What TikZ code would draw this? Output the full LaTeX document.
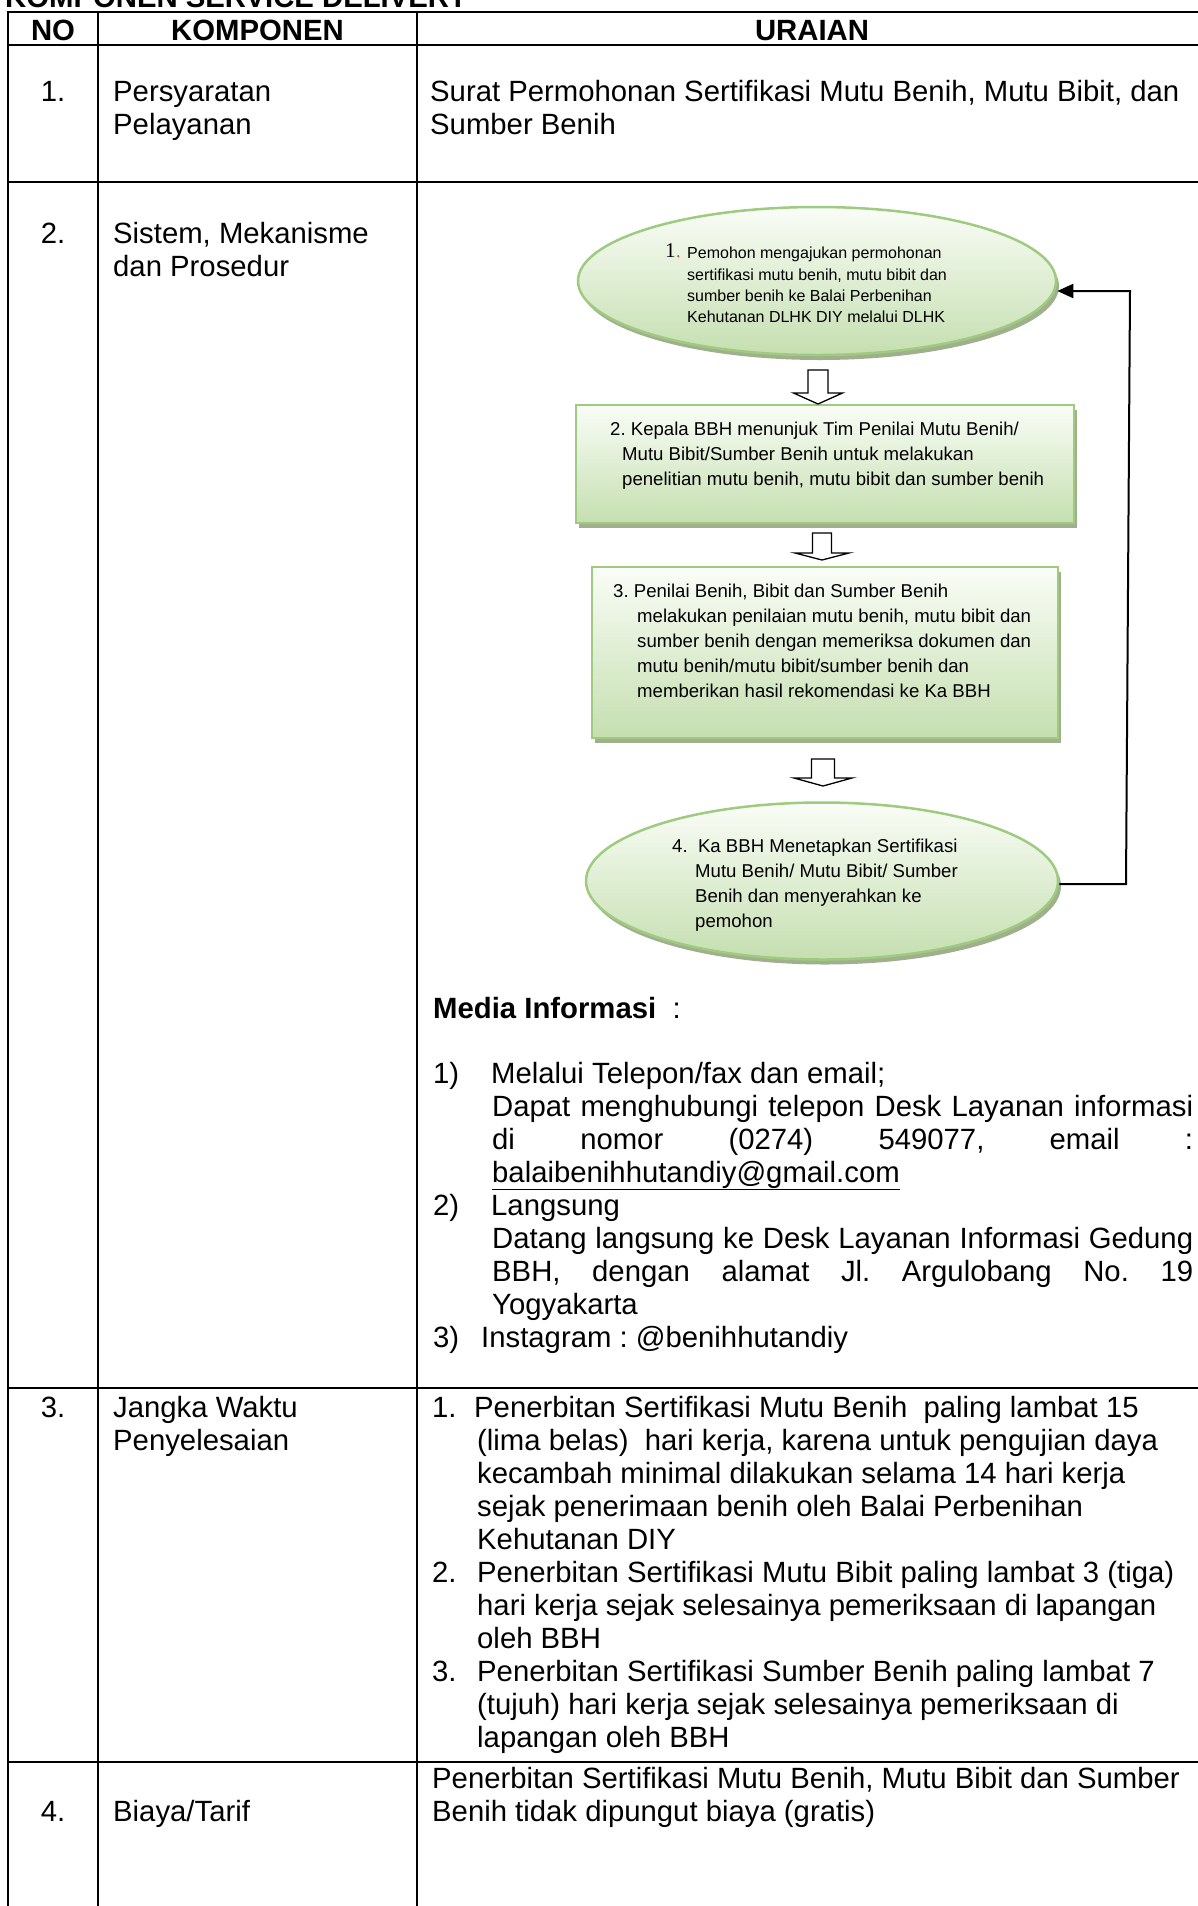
\documentclass[tikz,border=0pt]{standalone}
\usepackage{fontspec}
\setmainfont{Liberation Sans}
\newfontfamily\numserif{Liberation Serif}
\usetikzlibrary{shapes.geometric,arrows.meta,shadows}
\definecolor{bord}{RGB}{158,203,128}
\definecolor{ftop}{RGB}{250,253,247}
\definecolor{fbot}{RGB}{197,223,176}
\definecolor{shcol}{RGB}{160,176,140}
\definecolor{dotred}{RGB}{220,30,30}
\frenchspacing
\newcommand{\blkarrow}[6]{%
  \draw[barrow] (#1-#3,#2) -- (#1+#3,#2) -- (#1+#3,#4) -- (#1+#5,#4) -- (#1,#6) -- (#1-#5,#4) -- (#1-#3,#4) -- cycle;}
\begin{document}
\begin{tikzpicture}[x=1pt,y=-1pt,
  tl/.style={line width=2.2pt, line cap=rect},
  tx/.style={inner sep=0pt, anchor=base west, font=\fontsize{29.3}{33}\selectfont},
  txc/.style={tx, anchor=base},
  txb/.style={inner sep=0pt, anchor=base west, font=\fontsize{29.3}{33}\selectfont\bfseries},
  sa/.style={inner sep=0pt, anchor=base west, font=\fontsize{16}{21}\selectfont},
  sb/.style={inner sep=0pt, anchor=base west, font=\fontsize{18.6}{25}\selectfont},
  flow/.style={draw=bord, line width=2.5pt, top color=ftop, bottom color=fbot,
    general shadow={fill=shcol, shadow xshift=3pt, shadow yshift=-5pt}, inner sep=0pt},
  oval/.style={flow, ellipse},
  boxr/.style={flow, rectangle},
  barrow/.style={draw=black, line width=1.3pt, fill=white, line join=miter},
  fb/.style={line width=2pt, line join=miter, -{Triangle[length=16pt,width=14pt]}}
]
\useasboundingbox (0,0) rectangle (1198,1906);
\clip (0,0) rectangle (1198,1906);

% title (cut off at top, as in the reference)
\node[txb] (title) at (5,7) {KOMPONEN SERVICE DELIVERY};

% table rules
\foreach \yy in {12,45,182,1388,1762} \draw[tl] (8,\yy) -- (1215,\yy);
\foreach \xx in {8,98,417} \draw[tl] (\xx,12) -- (\xx,1920);

% header
\node[txb, anchor=base] (hno) at (53,40) {NO};
\node[txb, anchor=base] (hkomp) at (257.5,40) {KOMPONEN};
\node[txb, anchor=base] (hur) at (812,40) {URAIAN};

% row 1
\node[txc] (n1) at (53,101) {1.};
\node[tx] (k1a) at (113,101) {Persyaratan};
\node[tx] (k1b) at (113,134) {Pelayanan};
\node[tx] (u1a) at (430,101) {Surat Permohonan Sertifikasi Mutu Benih, Mutu Bibit, dan};
\node[tx] (u1b) at (430,134) {Sumber Benih};

% row 2
\node[txc] (n2) at (53,243) {2.};
\node[tx] (k2a) at (113,243) {Sistem, Mekanisme};
\node[tx] (k2b) at (113,276) {dan Prosedur};

% flow shapes
\node[oval, minimum width=478pt, minimum height=148pt] (e1) at (817,281) {};
\node[boxr, minimum width=498pt, minimum height=118pt] (b2) at (825,464) {};
\node[boxr, minimum width=466pt, minimum height=171pt] (b3) at (825,652.5) {};
\node[oval, minimum width=472pt, minimum height=157pt] (e4) at (822,881) {};

% flow texts
\node[inner sep=0pt, anchor=base west, font=\numserif\fontsize{21}{21}\selectfont] (t1n) at (665,257) {1};
\node[sa, text=dotred] (t1dot) at (676,257) {.};
\node[sa] (t1a) at (687,258) {Pemohon mengajukan permohonan};
\node[sa] (t1b) at (687,280) {sertifikasi mutu benih, mutu bibit dan};
\node[sa] (t1c) at (687,301) {sumber benih ke Balai Perbenihan};
\node[sa] (t1d) at (687,322) {Kehutanan DLHK DIY melalui DLHK};

\node[sb] (t2a) at (610,435) {2. Kepala BBH menunjuk Tim Penilai Mutu Benih/};
\node[sb] (t2b) at (622,460) {Mutu Bibit/Sumber Benih untuk melakukan};
\node[sb] (t2c) at (622,485) {penelitian mutu benih, mutu bibit dan sumber benih};

\node[sb] (t3a) at (613,597) {3. Penilai Benih, Bibit dan Sumber Benih};
\node[sb] (t3b) at (637,622) {melakukan penilaian mutu benih, mutu bibit dan};
\node[sb] (t3c) at (637,647) {sumber benih dengan memeriksa dokumen dan};
\node[sb] (t3d) at (637,672) {mutu benih/mutu bibit/sumber benih dan};
\node[sb] (t3e) at (637,697) {memberikan hasil rekomendasi ke Ka BBH};

\node[sb] (t4a) at (672,852) {4.\ \ Ka BBH Menetapkan Sertifikasi};
\node[sb] (t4b) at (695,877) {Mutu Benih/ Mutu Bibit/ Sumber};
\node[sb] (t4c) at (695,902) {Benih dan menyerahkan ke};
\node[sb] (t4d) at (695,927) {pemohon};

% hollow block arrows
\blkarrow{818}{370}{10}{393}{24.5}{404}
\blkarrow{822}{533}{9.5}{553}{27}{560}
\blkarrow{823}{759}{11.5}{778}{29}{786}

% feedback connector
\coordinate (fbA) at (1126,884);
\coordinate (fbB) at (1130,291);
\draw[fb] (e4.east |- fbA) -- (fbA) -- (fbB) -- (e1.east |- fbB);

% media informasi
\node[tx] (mi) at (433,1018) {\textbf{Media Informasi}\ \ :};
\node[tx] (m1n) at (433,1083) {1)};
\node[tx] (m1a) at (491,1083) {Melalui Telepon/fax dan email;};
\node[tx] (m1b) at (492,1116) {\makebox[701pt][s]{Dapat menghubungi telepon Desk Layanan informasi}};
\node[tx] (m1c) at (492,1149) {\makebox[701pt][s]{di nomor (0274) 549077, email :}};
\node[tx] (m1d) at (492,1182) {\underline{balaibenihhutandiy@gmail.com}};
\node[tx] (m2n) at (433,1215) {2)};
\node[tx] (m2a) at (491,1215) {Langsung};
\node[tx] (m2b) at (492,1248) {\makebox[701pt][s]{Datang langsung ke Desk Layanan Informasi Gedung}};
\node[tx] (m2c) at (492,1281) {\makebox[701pt][s]{BBH, dengan alamat Jl. Argulobang No. 19}};
\node[tx] (m2d) at (492,1314) {Yogyakarta};
\node[tx] (m3n) at (433,1347) {3)};
\node[tx] (m3a) at (481,1347) {Instagram : @benihhutandiy};

% row 3
\node[txc] (n3) at (53,1417) {3.};
\node[tx] (k3a) at (113,1417) {Jangka Waktu};
\node[tx] (k3b) at (113,1450) {Penyelesaian};
\node[tx] (j1n) at (432,1417) {1.};
\node[tx] (j1a) at (474,1417) {Penerbitan Sertifikasi Mutu Benih\ \ paling lambat 15};
\node[tx] (j1b) at (477,1450) {(lima belas)\ \ hari kerja, karena untuk pengujian daya};
\node[tx] (j1c) at (477,1483) {kecambah minimal dilakukan selama 14 hari kerja};
\node[tx] (j1d) at (477,1516) {sejak penerimaan benih oleh Balai Perbenihan};
\node[tx] (j1e) at (477,1549) {Kehutanan DIY};
\node[tx] (j2n) at (432,1582) {2.};
\node[tx] (j2a) at (477,1582) {Penerbitan Sertifikasi Mutu Bibit paling lambat 3 (tiga)};
\node[tx] (j2b) at (477,1615) {hari kerja sejak selesainya pemeriksaan di lapangan};
\node[tx] (j2c) at (477,1648) {oleh BBH};
\node[tx] (j3n) at (432,1681) {3.};
\node[tx] (j3a) at (477,1681) {Penerbitan Sertifikasi Sumber Benih paling lambat 7};
\node[tx] (j3b) at (477,1714) {(tujuh) hari kerja sejak selesainya pemeriksaan di};
\node[tx] (j3c) at (477,1747) {lapangan oleh BBH};

% row 4
\node[txc] (n4) at (53,1821) {4.};
\node[tx] (k4) at (113,1821) {Biaya/Tarif};
\node[tx] (b4a) at (432,1788) {Penerbitan Sertifikasi Mutu Benih, Mutu Bibit dan Sumber};
\node[tx] (b4b) at (432,1821) {Benih tidak dipungut biaya (gratis)};
\end{tikzpicture}
\end{document}
